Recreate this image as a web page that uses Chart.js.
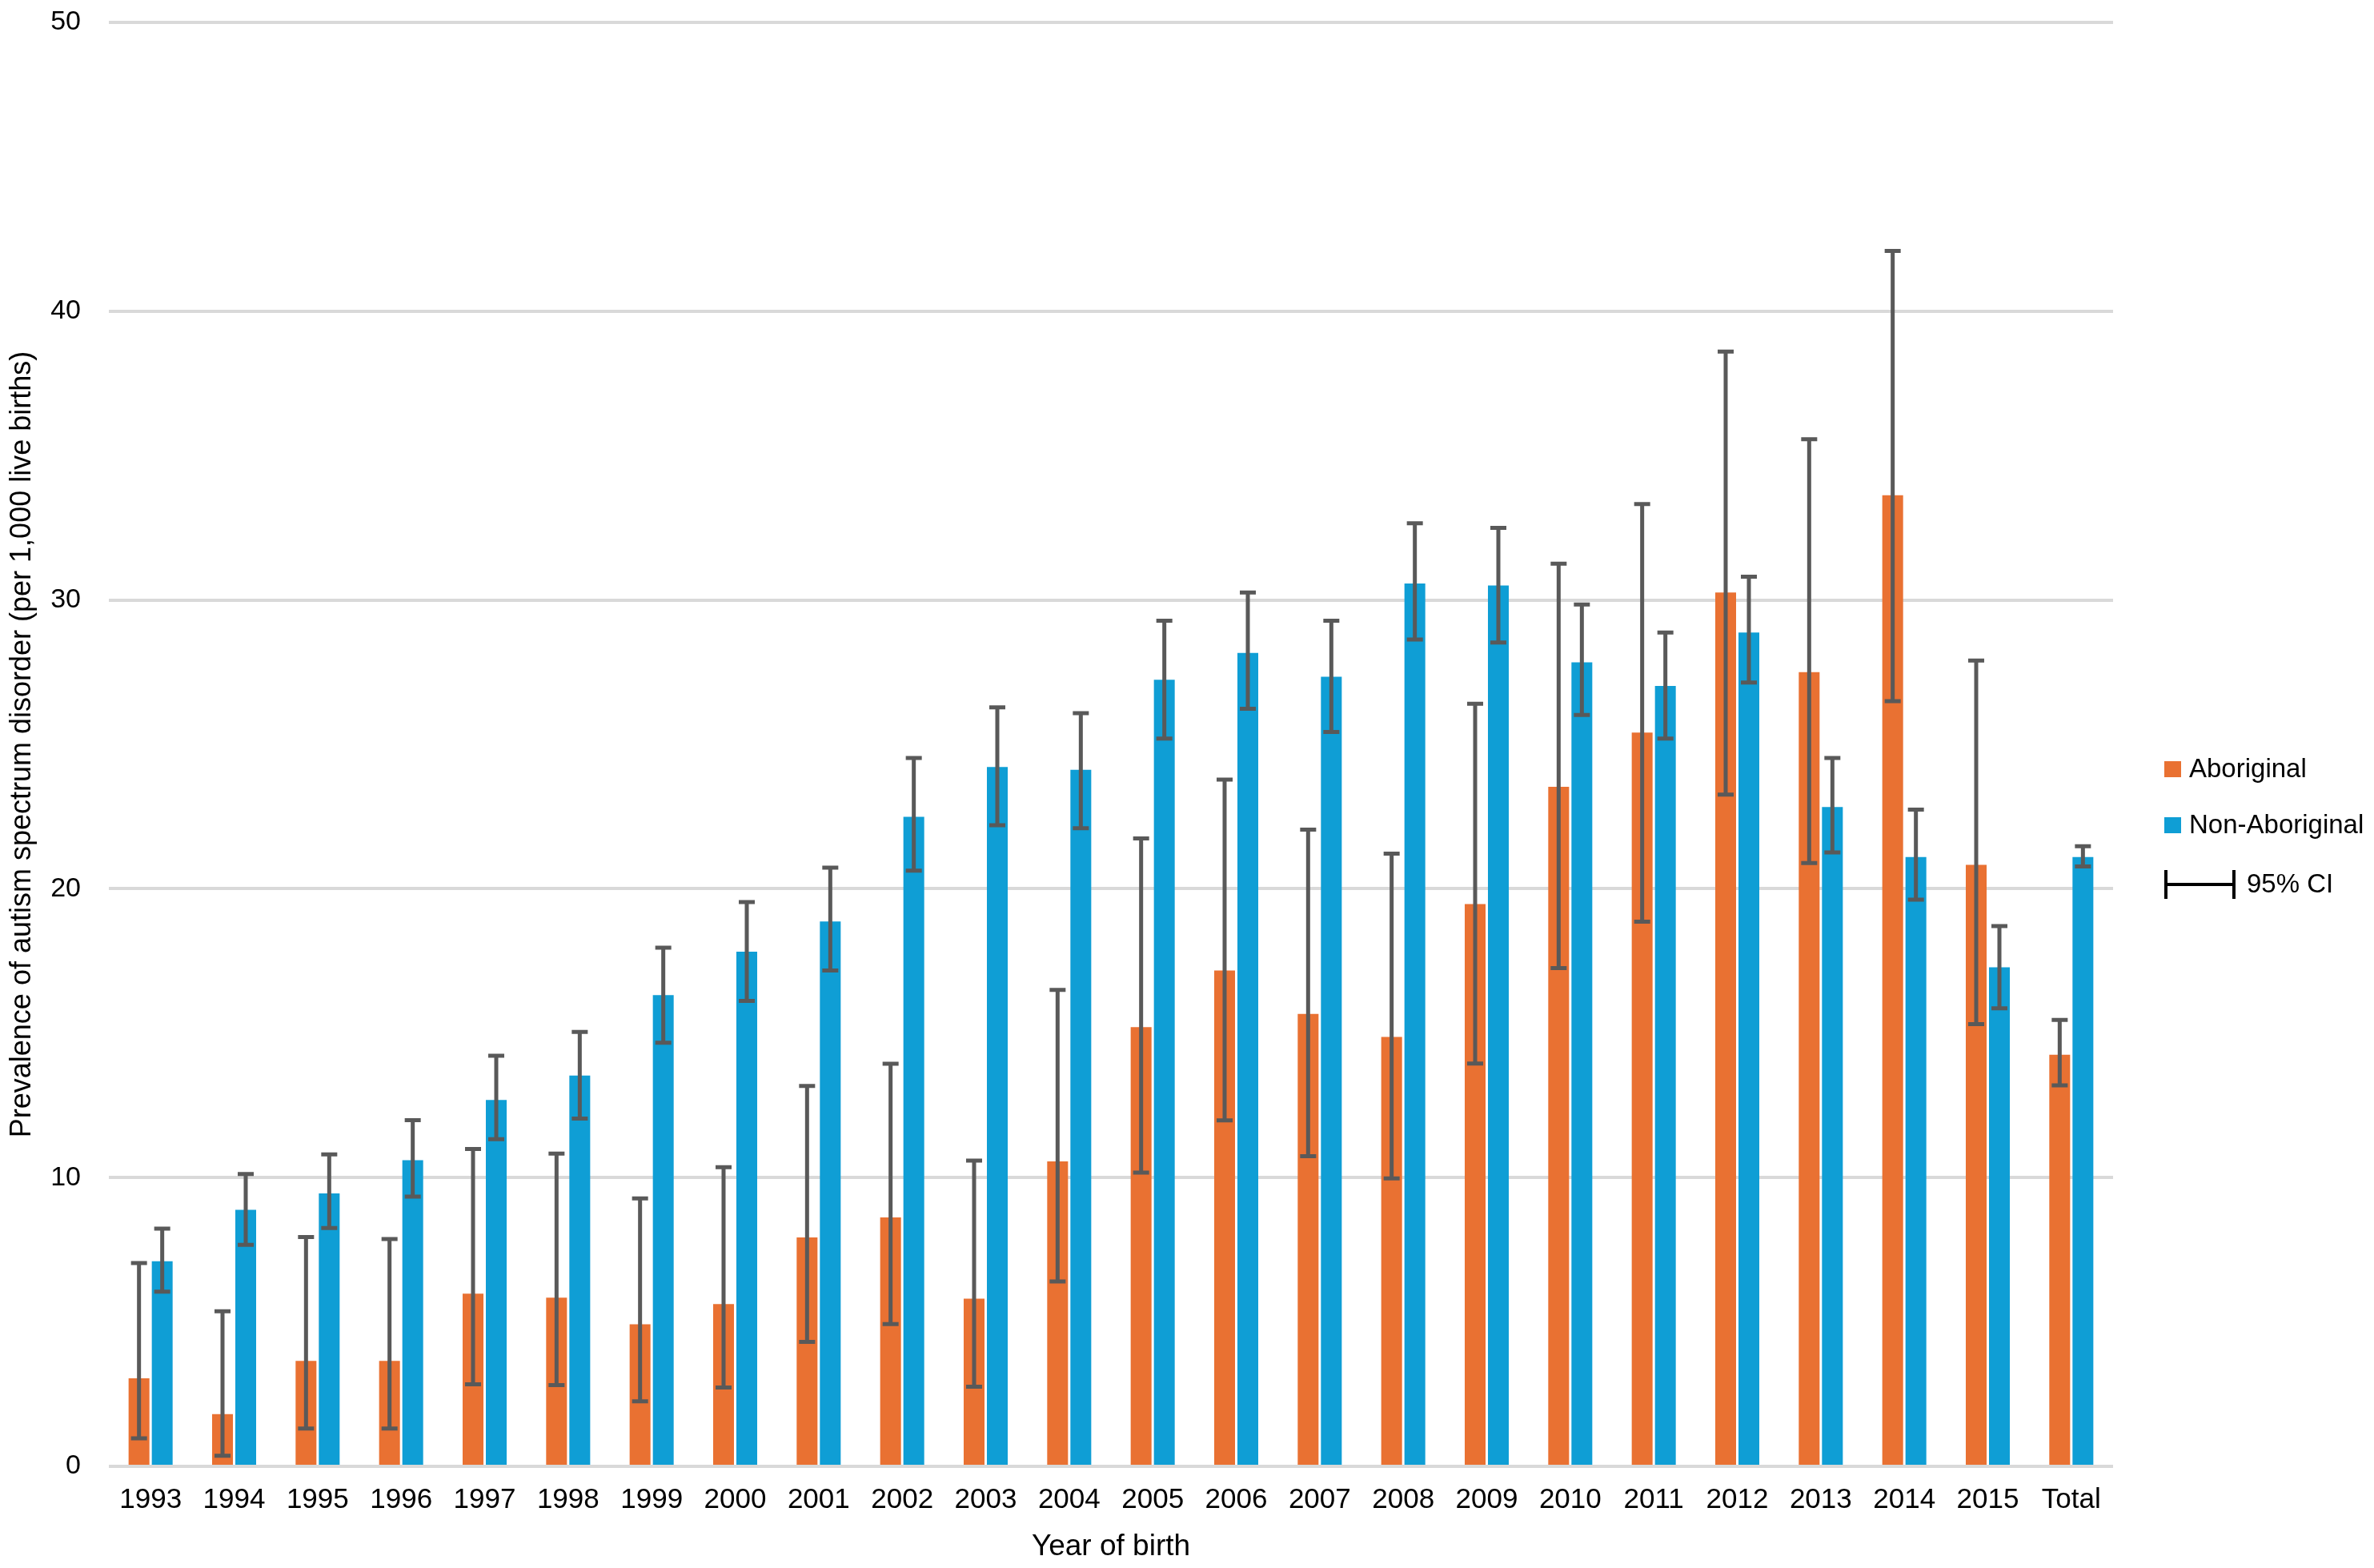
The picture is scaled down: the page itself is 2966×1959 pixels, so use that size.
<!DOCTYPE html>
<html>
<head>
<meta charset="utf-8">
<script src="https://cdn.jsdelivr.net/npm/chart.js@4.4.1/dist/chart.umd.min.js"></script>
<style>
  html, body { margin: 0; padding: 0; background: #fff; }
  canvas { display: block; }
</style>
</head>
<body>
<canvas id="chartAsd" width="2966" height="1959"></canvas>
<script>
var years = ["1993", "1994", "1995", "1996", "1997", "1998", "1999", "2000", "2001", "2002", "2003", "2004",
             "2005", "2006", "2007", "2008", "2009", "2010", "2011", "2012", "2013", "2014", "2015", "Total"];

var aboriginal     = [3.05, 1.81, 3.65, 3.65, 5.98, 5.84, 4.92, 5.62, 7.93, 8.62, 5.81, 10.56,
                      15.21, 17.17, 15.67, 14.87, 19.47, 23.53, 25.41, 30.26, 27.50, 33.63, 20.83, 14.25];
var aboriginalLow  = [0.97, 0.37, 1.31, 1.31, 2.84, 2.81, 2.25, 2.73, 4.31, 4.93, 2.76, 6.40,
                      10.17, 11.98, 10.74, 9.97, 13.95, 17.25, 18.86, 23.26, 20.89, 26.50, 15.31, 13.19];
var aboriginalHigh = [7.04, 5.37, 7.94, 7.87, 10.99, 10.83, 9.28, 10.36, 13.17, 13.94, 10.59, 16.50,
                      21.74, 23.78, 22.05, 21.22, 26.41, 31.26, 33.32, 38.60, 35.57, 42.09, 27.90, 15.46];

var nonAboriginal     = [7.10, 8.88, 9.45, 10.60, 12.69, 13.53, 16.32, 17.82, 18.87, 22.49, 24.22, 24.12,
                         27.24, 28.17, 27.34, 30.57, 30.50, 27.84, 27.02, 28.87, 22.83, 21.10, 17.28, 21.10];
var nonAboriginalLow  = [6.05, 7.67, 8.25, 9.34, 11.33, 12.04, 14.67, 16.12, 17.17, 20.63, 22.20, 22.10,
                         25.20, 26.23, 25.43, 28.63, 28.53, 26.02, 25.20, 27.14, 21.26, 19.62, 15.86, 20.77];
var nonAboriginalHigh = [8.23, 10.12, 10.80, 11.99, 14.22, 15.04, 17.96, 19.54, 20.73, 24.53, 26.28, 26.08,
                         29.28, 30.26, 29.28, 32.66, 32.50, 29.84, 28.87, 30.81, 24.53, 22.74, 18.71, 21.47];

var yTicks = [0, 10, 20, 30, 40, 50];

var orange = '#E97132';
var blue = '#0F9ED5';
var fontName = "'Liberation Sans', Arial, sans-serif";

// error bars: low/high per dataset index
var ciLow = [aboriginalLow, nonAboriginalLow];
var ciHigh = [aboriginalHigh, nonAboriginalHigh];

var errorBars = {
  id: 'errorBars',
  afterDatasetsDraw: function(chart) {
    var ctx = chart.ctx;
    var y = chart.scales.y;
    ctx.save();
    ctx.strokeStyle = '#595959';
    ctx.lineWidth = 5;
    ctx.lineCap = 'butt';
    for (var d = 0; d < 2; d++) {
      var meta = chart.getDatasetMeta(d);
      meta.data.forEach(function(bar, i) {
        var x = bar.x;
        var top = y.getPixelForValue(ciHigh[d][i]);
        var bot = y.getPixelForValue(ciLow[d][i]);
        ctx.beginPath();
        ctx.moveTo(x, top); ctx.lineTo(x, bot);
        ctx.moveTo(x - 10, top); ctx.lineTo(x + 10, top);
        ctx.moveTo(x - 10, bot); ctx.lineTo(x + 10, bot);
        ctx.stroke();
      });
    }
    ctx.restore();
  }
};

var sideLegend = {
  id: 'sideLegend',
  afterDraw: function(chart) {
    var ctx = chart.ctx;
    var x0 = chart.chartArea.right + 64;
    ctx.save();
    ctx.font = '33px ' + fontName;
    ctx.textBaseline = 'middle';
    ctx.fillStyle = orange;
    ctx.fillRect(x0, 951, 21, 20);
    ctx.fillStyle = blue;
    ctx.fillRect(x0, 1021, 21, 20);
    ctx.fillStyle = '#000';
    ctx.fillText('Aboriginal', x0 + 31, 962);
    ctx.fillText('Non-Aboriginal', x0 + 31, 1032);
    // CI symbol
    ctx.strokeStyle = '#000';
    ctx.lineWidth = 4;
    ctx.beginPath();
    ctx.moveTo(x0 + 2, 1105); ctx.lineTo(x0 + 87, 1105);
    ctx.moveTo(x0 + 2, 1087); ctx.lineTo(x0 + 2, 1123);
    ctx.moveTo(x0 + 87, 1087); ctx.lineTo(x0 + 87, 1123);
    ctx.stroke();
    ctx.fillText('95% CI', x0 + 103, 1106);
    ctx.restore();
  }
};

var chartCanvas = document.getElementById('chartAsd');

var barChart = new Chart(chartCanvas, {
  type: 'bar',
  data: {
    labels: years,
    datasets: [
      { label: 'Aboriginal', data: aboriginal, backgroundColor: orange, borderWidth: 0 },
      { label: 'Non-Aboriginal', data: nonAboriginal, backgroundColor: blue, borderWidth: 0 }
    ]
  },
  options: {
    responsive: false,
    devicePixelRatio: 1,
    animation: false,
    categoryPercentage: 0.556,
    barPercentage: 0.897,
    layout: { padding: { left: 6, right: 326, top: 0, bottom: 4 } },
    plugins: {
      legend: { display: false },
      tooltip: { enabled: false }
    },
    scales: {
      x: {
        afterFit: function(scale) {
          scale.height = 123;
          scale.paddingLeft = 0;
          scale.paddingRight = 0;
        },
        grid: { display: false, drawTicks: false },
        border: { display: false },
        ticks: { color: '#000', font: { family: fontName, size: 35 }, padding: 21, maxRotation: 0 },
        title: {
          display: true,
          text: 'Year of birth',
          color: '#000',
          font: { family: fontName, size: 37 },
          padding: { top: 14, bottom: 0 }
        }
      },
      y: {
        min: 0,
        max: 50,
        afterBuildTicks: function(axis) {
          axis.ticks = yTicks.map(function(v) { return { value: v }; });
        },
        afterFit: function(scale) {
          scale.width = 130;
          scale.paddingTop = 28;
          scale.paddingBottom = 0;
        },
        grid: { color: '#D9D9D9', lineWidth: 4, drawTicks: false },
        border: { display: false },
        ticks: { color: '#000', font: { family: fontName, size: 34 }, padding: 35 },
        title: {
          display: true,
          text: 'Prevalence of autism spectrum disorder (per 1,000 live births)',
          color: '#000',
          font: { family: fontName, size: 36 },
          padding: { top: 0, bottom: 16 }
        }
      }
    }
  },
  plugins: [errorBars, sideLegend]
});
</script>
</body>
</html>
